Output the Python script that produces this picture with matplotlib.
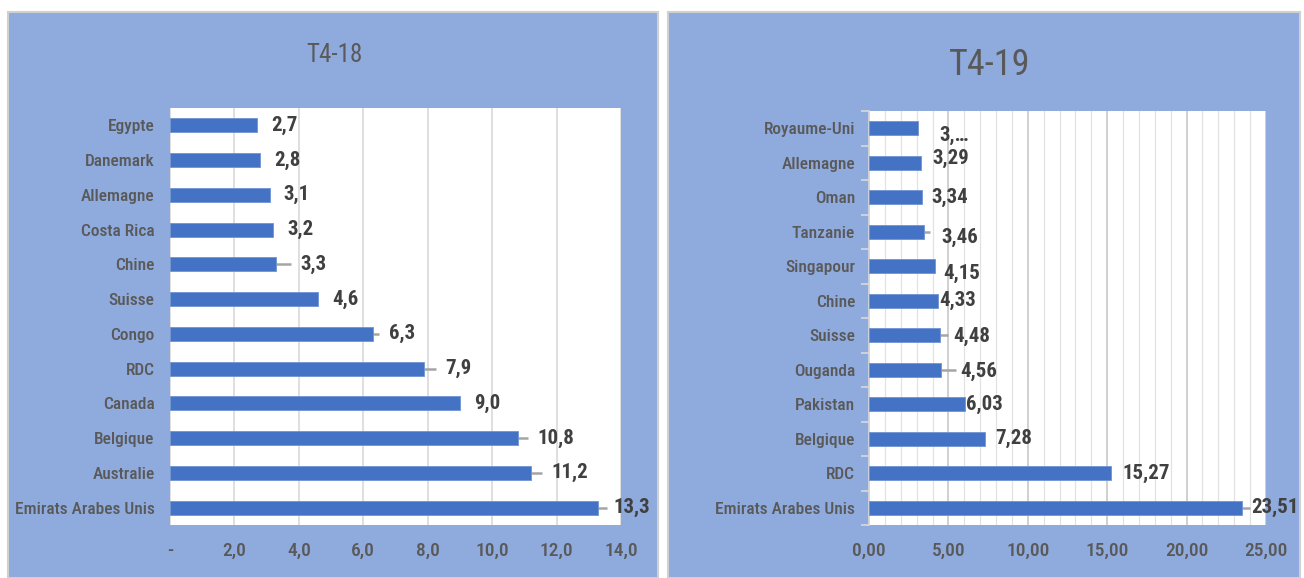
import matplotlib
matplotlib.use("Agg")
import matplotlib.pyplot as plt
from matplotlib.patches import Rectangle
from matplotlib.ticker import FuncFormatter, MultipleLocator

# ---------------- DATA ----------------
pays_18 = ["Egypte", "Danemark", "Allemagne", "Costa Rica", "Chine", "Suisse",
           "Congo", "RDC", "Canada", "Belgique", "Australie", "Emirats Arabes Unis"]
val_18 = [2.7, 2.8, 3.1, 3.2, 3.3, 4.6, 6.3, 7.9, 9.0, 10.8, 11.2, 13.3]
err_18 = [0, 0, 0, 0, 0.45, 0, 0.2, 0.35, 0, 0.3, 0.35, 0.25]

pays_19 = ["Royaume-Uni", "Allemagne", "Oman", "Tanzanie", "Singapour", "Chine",
           "Suisse", "Ouganda", "Pakistan", "Belgique", "RDC", "Emirats Arabes Unis"]
val_19 = [3.10, 3.29, 3.34, 3.46, 4.15, 4.33, 4.48, 4.56, 6.03, 7.28, 15.27, 23.51]
err_19 = [0, 0, 0, 0.4, 0, 0, 0.5, 0.9, 0, 0, 0, 0.5]
labels_19 = ["3,…", "3,29", "3,34", "3,46", "4,15", "4,33",
             "4,48", "4,56", "6,03", "7,28", "15,27", "23,51"]

# label nudges (points), as Excel placed them
dx_18 = [10, 10, 10, 10, 7, 10, 7, 7, 10, 7, 7, 5]
dy_18 = [0] * 12
dx_19 = [15, 8, 7, 8, 6, 1, 4, 3, 1, 8, 8, 1]
dy_19 = [-5, 3, 0, -4, -5, 0, -1, -1, 0, 0, 0, 0]

# ---------------- STYLE ----------------
plt.rcParams["font.family"] = ["Roboto Condensed", "DejaVu Sans"]
plt.rcParams["font.stretch"] = "condensed"
BAR = "#4472C4"
PANEL = "#8FAADC"
GREY_TXT = "#595959"
DARK_TXT = "#404040"
ERR = "#A5A5A5"

fig = plt.figure(figsize=(13.04, 5.78), dpi=100)
fig.patch.set_facecolor("white")

# panel backgrounds
fig.patches.append(Rectangle((8 / 1304, 0), 650 / 1304, 566 / 578, transform=fig.transFigure,
                             facecolor=PANEL, edgecolor="#D0D0D0", lw=1.5, zorder=-10))
fig.patches.append(Rectangle((668 / 1304, 0), 632 / 1304, 566 / 578, transform=fig.transFigure,
                             facecolor=PANEL, edgecolor="#D0D0D0", lw=1.5, zorder=-10))


def draw_panel(ax, names, vals, errs, labels, dxs, dys, ypad):
    pos = list(range(len(names)))
    ax.set_facecolor("white")
    ax.barh(pos, vals, height=0.4, color=BAR, edgecolor="#6F93D3", lw=0.6, zorder=3)
    for p, v, e in zip(pos, vals, errs):
        if e > 0:
            ax.plot([v, v + e], [p, p], color=ERR, lw=1.8, zorder=2, solid_capstyle="butt")
    for p, v, e, t, dx, dy in zip(pos, vals, errs, labels, dxs, dys):
        ax.annotate(t, (v + e, p), xytext=(dx, dy), textcoords="offset points",
                    va="center", ha="left", fontsize=15, fontweight="bold",
                    color=DARK_TXT, zorder=4, annotation_clip=False)
    ax.set_ylim(len(names) - 0.5, -0.5)
    ax.set_yticks(pos)
    ax.set_yticklabels(names, fontweight="medium")
    ax.set_axisbelow(True)
    for s in ax.spines.values():
        s.set_visible(False)
    ax.tick_params(axis="y", length=0, pad=ypad, labelsize=12.5, labelcolor=GREY_TXT)
    ax.tick_params(axis="x", length=0, pad=12, labelsize=14, labelcolor=GREY_TXT)
    for t in ax.get_xticklabels():
        t.set_fontweight("medium")


# ---------------- T4-18 ----------------
ax1 = fig.add_axes([170 / 1304, 1 - 525 / 578, 451 / 1304, 417 / 578])
ax1.set_xlim(0, 14)
ax1.xaxis.set_major_locator(MultipleLocator(2))
ax1.xaxis.set_major_formatter(FuncFormatter(
    lambda v, _: "-" if abs(v) < 1e-9 else f"{v:.1f}".replace(".", ",")))
draw_panel(ax1, pays_18, val_18, err_18,
           [f"{v:.1f}".replace(".", ",") for v in val_18], dx_18, dy_18, 11)
ax1.grid(axis="x", color="#D9D9D9", lw=1.2)
fig.text(334 / 1304, 1 - 55 / 578, "T4-18", ha="center", va="center",
         fontsize=18, color=GREY_TXT)

# ---------------- T4-19 ----------------
ax2 = fig.add_axes([869 / 1304, 1 - 525 / 578, 397 / 1304, 414 / 578])
ax2.set_xlim(0, 25)
ax2.xaxis.set_major_locator(MultipleLocator(5))
ax2.xaxis.set_minor_locator(MultipleLocator(1))
ax2.xaxis.set_major_formatter(FuncFormatter(lambda v, _: f"{v:.2f}".replace(".", ",")))
draw_panel(ax2, pays_19, val_19, err_19, labels_19, dx_19, dy_19, 10)
ax2.grid(axis="x", which="major", color="#C8C8C8", lw=1.2)
ax2.grid(axis="x", which="minor", color="#E2E2E2", lw=0.9)
ax2.tick_params(axis="x", which="minor", length=0)
ax2.spines["left"].set_visible(True)
ax2.spines["left"].set_color("#D9D9D9")
ax2.spines["left"].set_linewidth(1.2)
ax2.set_yticks([p - 0.5 for p in range(len(pays_19) + 1)], minor=True)
ax2.tick_params(axis="y", which="minor", length=6, width=1.2, color="#D9D9D9", direction="out")
fig.text(990 / 1304, 1 - 65 / 578, "T4-19", ha="center", va="center",
         fontsize=26, color=GREY_TXT)

fig.savefig("out.png", dpi=100, facecolor=fig.get_facecolor())
